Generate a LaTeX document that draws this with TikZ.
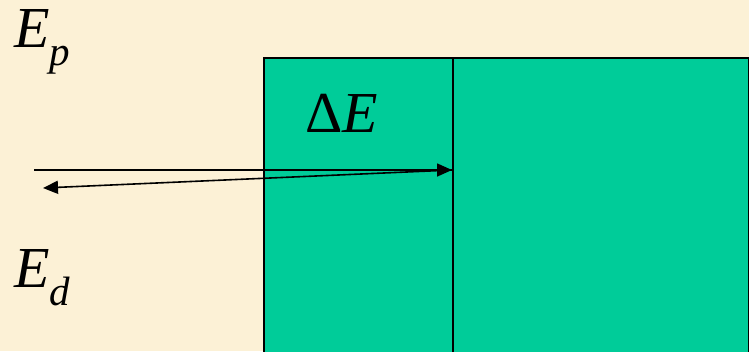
\documentclass[tikz,border=0pt]{standalone}
\usepackage{fontspec}
\setmainfont{Liberation Serif}
\usetikzlibrary{arrows.meta}
\definecolor{parch}{RGB}{252,241,214}
\definecolor{slab}{RGB}{0,204,153}
\newcommand{\subtxt}[1]{\raisebox{-18pt}{\fontsize{41}{43}\selectfont\itshape #1}}
\tikzset{
  lbl/.style={inner sep=0pt, anchor=base west, font=\fontsize{58}{60}\selectfont},
  ray/.style={draw=black, line width=1.6pt, -{Triangle[length=15pt,width=13pt]}},
  edge/.style={draw=black, line width=1.6pt}
}
\begin{document}
\begin{tikzpicture}[x=1pt,y=-1pt]
\fill[parch] (0,0) rectangle (749,351);
\useasboundingbox (0,0) rectangle (749,351);
\filldraw[fill=slab, edge] (264,58) -- (749,58) -- (749,353) -- (264,353) -- cycle;
\draw[edge] (453,58) -- (453,353);
\coordinate (src) at (34,170);
\coordinate (hit) at (452,170);
\coordinate (ret) at (43,188);
\draw[ray] (src) -- (hit);
\draw[ray] (hit) -- (ret);
\node[lbl] (ep) at (14,47) {\textit{E}\subtxt{p}};
\node[lbl] (de) at (305,132) {Δ\textit{E}};
\node[lbl] (ed) at (14,287) {\textit{E}\subtxt{d}};
\end{tikzpicture}
\end{document}
